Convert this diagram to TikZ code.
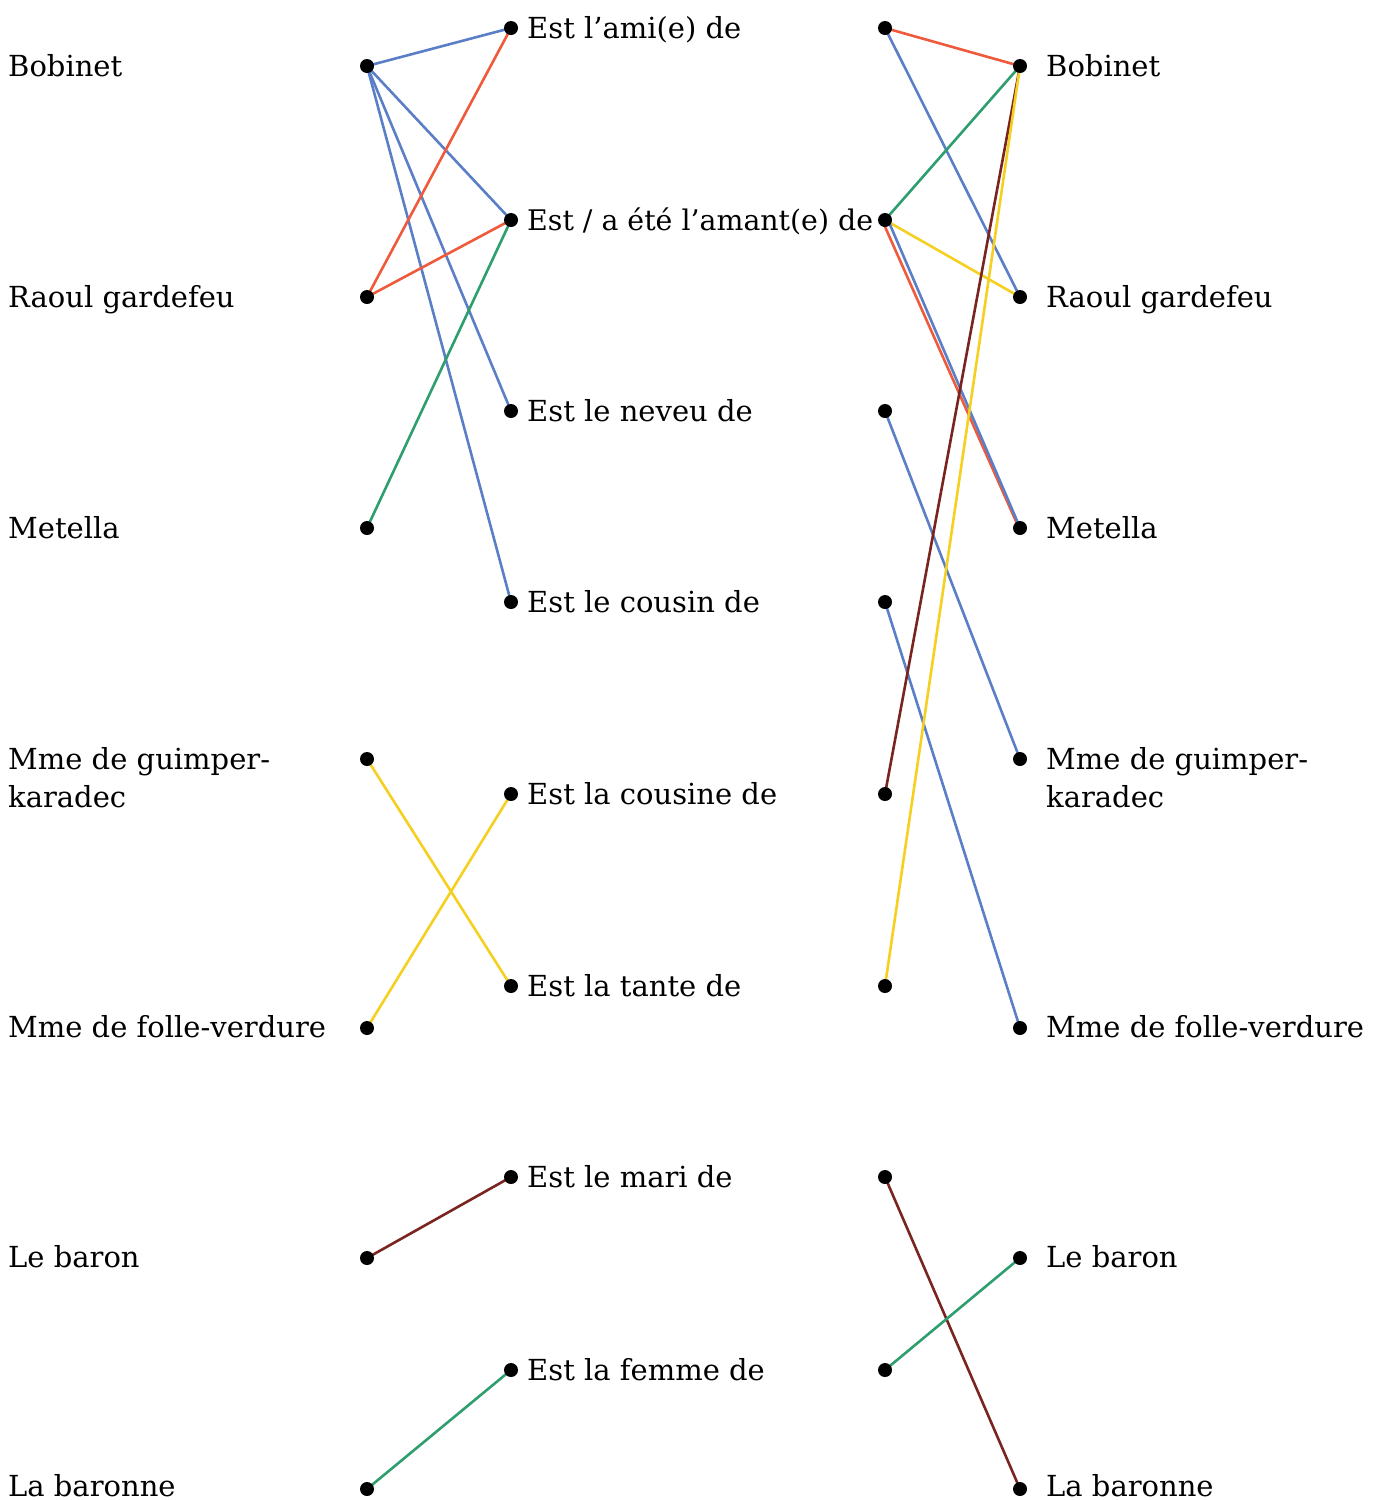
\documentclass[tikz,border=0pt]{standalone}
\usepackage{fontspec}
\setmainfont{DejaVu Serif}
\definecolor{cblue}{HTML}{5B7FC7}
\definecolor{cred}{HTML}{EF5A3C}
\definecolor{cgreen}{HTML}{2E9E6E}
\definecolor{cyellow}{HTML}{F5D020}
\definecolor{cbrown}{HTML}{7A2420}
\begin{document}
\begin{tikzpicture}[x=1pt,y=-1pt,
  dot/.style={circle,fill=black,inner sep=0pt,minimum size=14pt},
  lbl/.style={anchor=base west,inner sep=0pt,font=\fontsize{29}{38}\selectfont,align=left},
  link/.style={line width=2.6pt}]
\useasboundingbox (0,0) rectangle (1384,1500);
% coordinates
\foreach \i/\y in {1/66,2/297,3/528,4/759,5/1028,6/1258,7/1489}{
  \coordinate (L\i) at (367,\y);
  \coordinate (R\i) at (1020,\y);
}
\foreach \i/\y in {1/28,2/220,3/411,4/602,5/794,6/986,7/1177,8/1370}{
  \coordinate (M\i) at (511,\y);
  \coordinate (N\i) at (885,\y);
}
% left links
\draw[link,cblue] (L1) -- (M1);
\draw[link,cblue] (L1) -- (M2);
\draw[link,cblue] (L1) -- (M3);
\draw[link,cblue] (L1) -- (M4);
\draw[link,cred] (L2) -- (M1);
\draw[link,cred] (L2) -- (M2);
\draw[link,cgreen] (L3) -- (M2);
\draw[link,cyellow] (L4) -- (M6);
\draw[link,cyellow] (L5) -- (M5);
\draw[link,cbrown] (L6) -- (M7);
\draw[link,cgreen] (L7) -- (M8);
% right links
\draw[link,cred] (N1) -- (R1);
\draw[link,cblue] (N1) -- (R2);
\draw[link,cgreen] (N2) -- (R1);
\draw[link,cyellow] (N2) -- (R2);
\draw[link,cred] ([xshift=-3pt]N2) -- ([xshift=-1pt]R3);
\draw[link,cblue] ([xshift=3pt]N2) -- ([xshift=1pt,yshift=-2pt]R3);
\draw[link,cblue] (N3) -- (R4);
\draw[link,cblue] (N4) -- (R5);
\draw[link,cbrown] (N5) -- (R1);
\draw[link,cyellow] (N6) -- (R1);
\draw[link,cbrown] (N7) -- (R7);
\draw[link,cgreen] (N8) -- (R6);
% dots
\foreach \i in {1,...,7}{\node[dot] at (L\i) {}; \node[dot] at (R\i) {};}
\foreach \i in {1,...,8}{\node[dot] at (M\i) {}; \node[dot] at (N\i) {};}
% left labels
\node[lbl] (tl1) at (8,76) {Bobinet};
\node[lbl] (tl2) at (8,307) {Raoul gardefeu};
\node[lbl] (tl3) at (8,538) {Metella};
\node[lbl] (tl4) at (8,807) {Mme de guimper-\\karadec};
\node[lbl] (tl5) at (8,1037) {Mme de folle-verdure};
\node[lbl] (tl6) at (8,1267) {Le baron};
\node[lbl] (tl7) at (8,1496) {La baronne};
% right labels
\node[lbl] (tr1) at (1046,76) {Bobinet};
\node[lbl] (tr2) at (1046,307) {Raoul gardefeu};
\node[lbl] (tr3) at (1046,538) {Metella};
\node[lbl] (tr4) at (1046,807) {Mme de guimper-\\karadec};
\node[lbl] (tr5) at (1046,1037) {Mme de folle-verdure};
\node[lbl] (tr6) at (1046,1267) {Le baron};
\node[lbl] (tr7) at (1046,1496) {La baronne};
% middle labels
\node[lbl] (tm1) at (527,38) {Est l’ami(e) de};
\node[lbl,font=\fontsize{28.4}{38}\selectfont] (tm2) at (527,230) {Est / a été l’amant(e) de};
\node[lbl] (tm3) at (527,421) {Est le neveu de};
\node[lbl] (tm4) at (527,612) {Est le cousin de};
\node[lbl] (tm5) at (527,804) {Est la cousine de};
\node[lbl] (tm6) at (527,996) {Est la tante de};
\node[lbl] (tm7) at (527,1187) {Est le mari de};
\node[lbl] (tm8) at (527,1380) {Est la femme de};
\end{tikzpicture}
\end{document}
